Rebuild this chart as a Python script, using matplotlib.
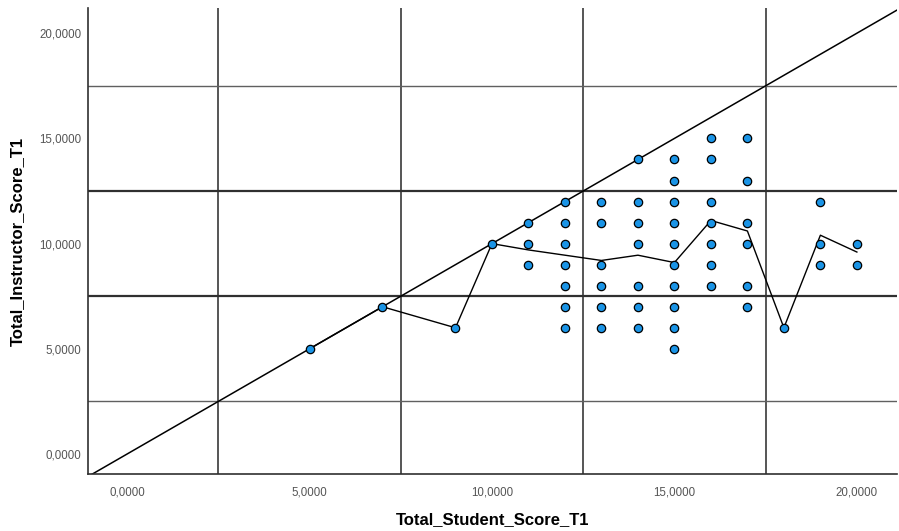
import matplotlib
matplotlib.use("Agg")
import matplotlib.pyplot as plt
from matplotlib.ticker import FuncFormatter

plt.rcParams["font.family"] = ["Liberation Sans", "DejaVu Sans"]

# observed (student, instructor) score pairs, one list entry per x column
student_x = [5, 7, 9, 10, 11, 12, 13, 14, 15, 16, 17, 18, 19, 20]
instructor_y = [
    [5],
    [7],
    [6],
    [10],
    [11, 10, 9],
    [12, 11, 10, 9, 8, 7, 6],
    [12, 11, 9, 8, 7, 6],
    [14, 12, 11, 10, 8, 7, 6],
    [14, 13, 12, 11, 10, 9, 8, 7, 6, 5],
    [15, 14, 12, 11, 10, 9, 8],
    [15, 13, 11, 10, 8, 7],
    [6],
    [12, 10, 9],
    [10, 9],
]

# fit line through the subgroups
fit_x = [5, 7, 9, 10, 11, 12, 13, 14, 15, 16, 17, 18, 19, 20]
fit_y = [5, 7, 6, 10, 9.7, 9.45, 9.2, 9.45, 9.1, 11.1, 10.6, 6.0, 10.4, 9.6]

x_ticks = [0, 5, 10, 15, 20]
y_ticks = [0, 5, 10, 15, 20]
grid_pos = [2.5, 7.5, 12.5, 17.5]

xs, ys = [], []
for x, col in zip(student_x, instructor_y):
    for y in col:
        xs.append(x)
        ys.append(y)

fig = plt.figure(figsize=(8.99, 5.31), dpi=100)
ax = fig.add_axes([0.0979, 0.1073, 0.8999, 0.8777])
ax.set_xlim(-1.07, 21.1)
ax.set_ylim(-0.95, 21.2)

for g in grid_pos:
    ax.axvline(g, color="#383838", lw=1.2, zorder=1)
for g in grid_pos:
    heavy = g in (7.5, 12.5)
    ax.axhline(g, color="#303030" if heavy else "#606060",
               lw=1.6 if heavy else 1.0, zorder=1)

# reference line y = x, starting at the lower-left corner of the frame
ax.plot([-1.07, 23], [-1.07, 23], color="black", lw=1.1, zorder=2)
ax.plot(fit_x, fit_y, color="black", lw=1.0, zorder=2)

ax.scatter(xs, ys, s=36, color="#1a94e6", edgecolors="black",
           linewidths=0.9, zorder=3)

fmt = FuncFormatter(lambda v, p: f"{v:.4f}".replace(".", ","))
ax.set_xticks(x_ticks)
ax.set_yticks(y_ticks)
ax.xaxis.set_major_formatter(fmt)
ax.yaxis.set_major_formatter(fmt)
ax.tick_params(axis="both", length=0, labelsize=8.3, labelcolor="#555555")
ax.tick_params(axis="x", pad=9)
ax.tick_params(axis="y", pad=5)

for side in ("top", "right"):
    ax.spines[side].set_visible(False)
for side in ("left", "bottom"):
    ax.spines[side].set_color("#303030")
    ax.spines[side].set_linewidth(1.2)

ax.set_xlabel("Total_Student_Score_T1", fontsize=12, fontweight="bold",
              labelpad=10)
ax.set_ylabel("Total_Instructor_Score_T1", fontsize=12, fontweight="bold",
              labelpad=10)

fig.savefig("out.png", dpi=100)
